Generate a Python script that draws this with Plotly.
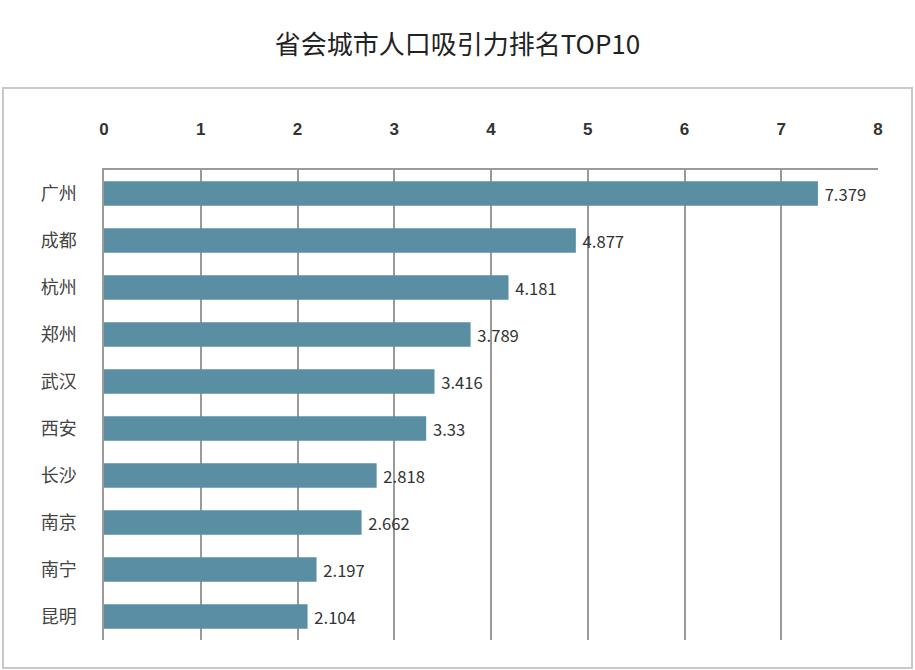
import plotly.graph_objects as go

cities = ["广州", "成都", "杭州", "郑州", "武汉", "西安", "长沙", "南京", "南宁", "昆明"]
values = [7.379, 4.877, 4.181, 3.789, 3.416, 3.33, 2.818, 2.662, 2.197, 2.104]
tick_vals = [0, 1, 2, 3, 4, 5, 6, 7, 8]

FONT = "Noto Sans CJK SC"
BAR = "#5a8ea3"
GRID = "#9a9a9a"

fig = go.Figure(go.Bar(
    x=values, y=cities, orientation="h",
    marker=dict(color=BAR, line=dict(width=0)),
    width=0.52,
    text=[f" {v}" for v in values], textposition="outside",
    textfont=dict(family=FONT, size=17, color="#333333"),
    cliponaxis=False,
))

fig.update_layout(
    width=915, height=670,
    paper_bgcolor="white", plot_bgcolor="white",
    margin=dict(l=104, r=37, t=170, b=30),
    showlegend=False,
    title=dict(text="省会城市人口吸引力排名TOP10", x=0.5, xanchor="center",
               y=1 - 45 / 670, yanchor="middle", yref="container",
               font=dict(family=FONT, size=26, color="#222222")),
    xaxis=dict(side="top", range=[0, 8], tickvals=tick_vals, showgrid=True,
               gridcolor=GRID, gridwidth=1.5, showline=True, linecolor=GRID,
               linewidth=1.5, zeroline=False, ticks="", ticklabelstandoff=26,
               tickfont=dict(family="Liberation Sans", size=17, color="#333333", weight="bold")),
    yaxis=dict(autorange="reversed", showline=True, linecolor=GRID, linewidth=1.5,
               showgrid=False, ticks="", ticklabelstandoff=22,
               tickfont=dict(family=FONT, size=18, color="#444444")),
    shapes=[dict(type="rect", xref="paper", yref="paper",
                 x0=(3 - 104) / 774, x1=(912 - 104) / 774,
                 y0=(640 - 668) / 470, y1=(640 - 88) / 470,
                 line=dict(color="#c8c8c8", width=2), fillcolor="rgba(0,0,0,0)",
                 layer="below")],
)

fig.write_html("out.html", config={"displayModeBar": False},
               post_script="document.body.style.margin='0';document.body.style.overflow='hidden';")
